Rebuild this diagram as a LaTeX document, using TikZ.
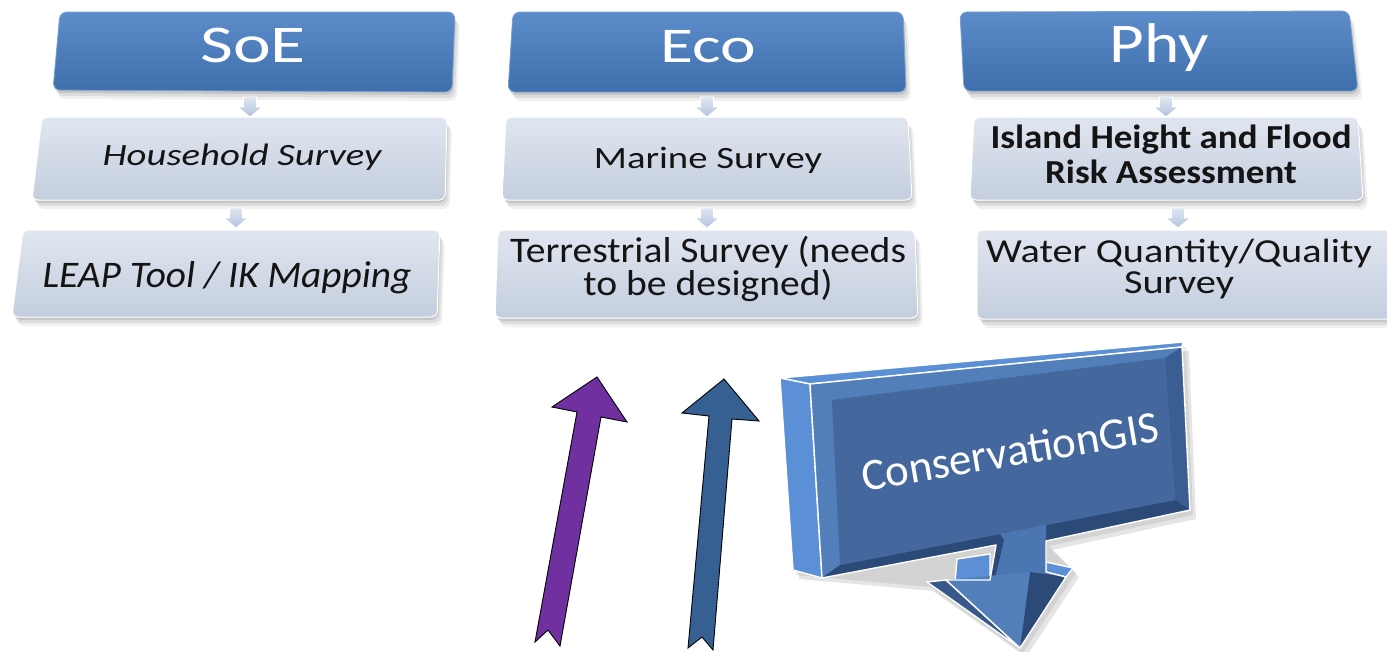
\documentclass[tikz,border=0pt]{standalone}
\usepackage{fontspec}
\setmainfont{Carlito}
\newfontfamily\fA[FakeStretch=1.25]{Carlito}
\newfontfamily\fB[FakeStretch=1.05]{Carlito}
\newfontfamily\fC[FakeStretch=1.1]{Carlito}
\newfontfamily\fD[FakeStretch=1.2]{Carlito}
\newfontfamily\fE[FakeStretch=1.35]{Carlito}
\usetikzlibrary{calc}
\definecolor{hdrtop}{RGB}{92,141,202}
\definecolor{hdrbot}{RGB}{62,110,172}
\definecolor{hdrline}{RGB}{120,160,212}
\definecolor{subtop}{RGB}{224,230,240}
\definecolor{subbot}{RGB}{196,206,222}
\definecolor{smallar}{RGB}{178,195,222}
\definecolor{purp}{RGB}{112,48,160}
\definecolor{steel}{RGB}{54,96,146}
\definecolor{gisside}{RGB}{92,144,214}
\definecolor{gisfront}{RGB}{74,114,172}
\definecolor{gisinner}{RGB}{68,104,157}
\definecolor{gisdark}{RGB}{44,74,120}
\definecolor{gisbev}{RGB}{82,126,186}
\definecolor{gisright}{RGB}{58,94,146}
\definecolor{gisstem}{RGB}{76,118,178}
\tikzset{
  x=1pt, y=-1pt,
  hdr/.style={top color=hdrtop, bottom color=hdrbot, draw=hdrline, line width=0.8pt, rounded corners=7pt},
  sub/.style={top color=subtop, bottom color=subbot, draw=white, line width=1pt, rounded corners=6pt},
  shad/.style={fill=black, opacity=#1, rounded corners=7pt},
  hdrtxt/.style={text=white, anchor=base, inner sep=0pt},
  subtxt/.style={text=black!92, anchor=base, inner sep=0pt, align=center},
  bigarrow/.style={draw=black, line width=0.9pt, line join=miter},
  gisedge/.style={draw=white, line width=1.4pt, line join=round},
  dn/.pic={
    \path[top color=white!60!smallar, bottom color=smallar, draw=white, line width=0.8pt]
      (-6.5,-10) -- (6.5,-10) -- (6.5,0) -- (12,0) -- (0,10) -- (-12,0) -- (-6.5,0) -- cycle;
  }
}
\newcommand\panel[5]{%
  \begin{scope}[shift={(1,3)}]\fill[shad=.10] #2--#3--#4--#5--cycle;\end{scope}
  \begin{scope}[shift={(3,6)}]\fill[shad=.08] #2--#3--#4--#5--cycle;\end{scope}
  \begin{scope}[shift={(5,9)}]\fill[shad=.06] #2--#3--#4--#5--cycle;\end{scope}
  \path[#1] #2--#3--#4--#5--cycle;}
\begin{document}
\begin{tikzpicture}
\useasboundingbox (0,0) rectangle (1387,651);
\fill[white] (0,0) rectangle (1387,651);

% ---- column SoE ----
\panel{hdr}{(60,12)}{(455,12)}{(452,92)}{(53,90)}
\panel{sub}{(42,117)}{(447,117)}{(445,200)}{(32,200)}
\panel{sub}{(23,230)}{(440,230)}{(437,317)}{(12,317)}
% ---- column Eco ----
\panel{hdr}{(513,12)}{(903,12)}{(906,92)}{(508,92)}
\panel{sub}{(506,117)}{(908,117)}{(912,200)}{(502,200)}
\panel{sub}{(498,230)}{(915,230)}{(918,318)}{(495,318)}
% ---- column Phy ----
\panel{hdr}{(960,12)}{(1349,11)}{(1358,91)}{(964,91)}
\panel{sub}{(974,117)}{(1358,117)}{(1363,200)}{(970,200)}
\panel{sub}{(977,230)}{(1400,230)}{(1400,319)}{(977,319)}

% texts
\node[hdrtxt, font=\fE\fontsize{53}{56}\selectfont] (soe) at (253,62) {SoE};
\node[hdrtxt, font=\fE\fontsize{50}{54}\selectfont] (eco) at (708,62) {Eco};
\node[hdrtxt, font=\fD\fontsize{56}{58}\selectfont] (phy) at (1159,62) {Phy};
\node[subtxt, font=\fA\itshape\fontsize{31}{33}\selectfont] (hh) at (242,165) {Household Survey};
\node[subtxt, font=\fB\itshape\fontsize{37.5}{38}\selectfont] (leap) at (227,287) {LEAP Tool / IK Mapping};
\node[subtxt, font=\fA\fontsize{31}{33}\selectfont] (mar) at (708,168) {Marine Survey};
\node[subtxt, font=\fC\fontsize{36}{33}\selectfont] (ter) at (708,295) {Terrestrial Survey (needs\\to be designed)};
\node[subtxt, font=\fC\bfseries\fontsize{33.6}{35}\selectfont] (isl) at (1171,183) {Island Height and Flood\\Risk Assessment};
\node[subtxt, font=\fD\fontsize{33.6}{31}\selectfont] (wat) at (1179,293) {Water Quantity/Quality\\Survey};

% connector anchor points
\coordinate (soeB) at (250,92);  \coordinate (hhT) at (250,117);
\coordinate (hhB) at (236,200);  \coordinate (leapT) at (236,230);
\coordinate (ecoB) at (707,92);  \coordinate (marT) at (707,117);
\coordinate (marB) at (707,200); \coordinate (terT) at (707,230);
\coordinate (phyB) at (1166,92); \coordinate (islT) at (1166,117);
\coordinate (islB) at (1178,200); \coordinate (watT) at (1178,230);
\pic at ($(soeB)!0.6!(hhT)$) {dn};
\pic at ($(hhB)!0.6!(leapT)$) {dn};
\pic at ($(ecoB)!0.6!(marT)$) {dn};
\pic at ($(marB)!0.6!(terT)$) {dn};
\pic at ($(phyB)!0.6!(islT)$) {dn};
\pic at ($(islB)!0.6!(watT)$) {dn};

% ---- big up arrows ----
\path[bigarrow, fill=purp] (597,377) -- (627,422) -- (601,417) -- (560,646) -- (548,630)
  -- (535,642) -- (577,412) -- (552,407) -- cycle;
\path[bigarrow, fill=steel] (724,379) -- (759,421) -- (732,419) -- (713,650) -- (702,637)
  -- (688,648) -- (709,416) -- (682,413) -- cycle;

% ---- ConservationGIS callout ----
\begin{scope}[shift={(6,9)}]
  \fill[black, opacity=.10] (780,378) -- (1183,342) -- (1190,510) -- (1046,541) -- (1073,568)
    -- (1020,648) -- (927,582) -- (793,570) -- cycle;
\end{scope}
\begin{scope}[shift={(3,5)}]
  \fill[black, opacity=.08] (780,378) -- (1183,342) -- (1190,510) -- (1046,541) -- (1073,568)
    -- (1020,648) -- (927,582) -- (793,570) -- cycle;
\end{scope}
\path[fill=gisside, gisedge] (780,378) -- (1183,342) -- (1182,347) -- (810,384) -- cycle;
\path[fill=gisside, gisedge] (780,378) -- (810,384) -- (822,578) -- (793,570) -- cycle;
\path[fill=gisside, gisedge] (957,559) -- (990,554) -- (990,580) -- (955,582) -- cycle;
\path[fill=gisside, gisedge] (1046,562) -- (1073,568) -- (1066,577) -- (1046,572) -- cycle;
\path[fill=gisdark!80!gisside, gisedge] (927,582) -- (946,580) -- (1020,648) -- cycle;
\path[fill=gisfront] (810,384) -- (1182,347) -- (1190,510) -- (1046,541) -- (1046,572)
  -- (1066,577) -- (1020,648) -- (946,580) -- (990,580) -- (996,545) -- (822,578) -- cycle;
\fill[gisbev] (810,384) -- (1182,347) -- (1165,358) -- (832,400) -- cycle;
\fill[gisbev] (810,384) -- (832,400) -- (840,565) -- (822,578) -- cycle;
\fill[gisright] (1182,347) -- (1190,510) -- (1175,500) -- (1165,358) -- cycle;
\fill[gisdark] (822,578) -- (840,565) -- (1000,534) -- (996,545) -- cycle;
\fill[gisdark] (1046,525) -- (1175,500) -- (1190,510) -- (1046,541) -- cycle;
\fill[gisinner] (832,400) -- (1165,358) -- (1175,500) -- (840,565) -- cycle;
\fill[gisstem] (1000,534) -- (1046,525) -- (1046,572) -- (990,580) -- cycle;
\fill[gisdark] (996,545) -- (1000,534) -- (1004,540) -- (995,578) -- (990,580) -- cycle;
\fill[gisdark] (1030,572) -- (1066,577) -- (1020,648) -- cycle;
\fill[gisbev] (946,580) -- (1030,572) -- (1020,648) -- cycle;
\path[gisedge] (810,384) -- (1182,347) -- (1190,510) -- (1046,541) -- (1046,572)
  -- (1066,577) -- (1020,648) -- (946,580) -- (990,580) -- (996,545) -- (822,578) -- cycle;
\node[text=white, inner sep=0pt, rotate=9.5, font=\fontsize{45}{45}\selectfont] (gis) at (1010,451) {ConservationGIS};
\end{tikzpicture}
\end{document}
